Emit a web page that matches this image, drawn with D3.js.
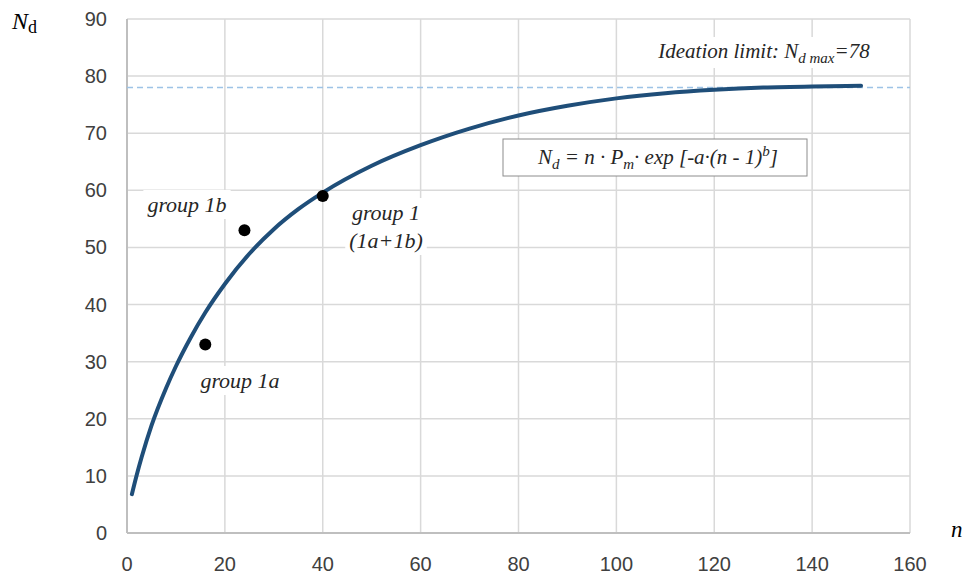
<!DOCTYPE html>
<html>
<head>
<meta charset="utf-8">
<script src="https://cdn.jsdelivr.net/npm/d3@7"></script>
<style>
  body { margin: 0; background: #fff; }
  svg { display: block; }
</style>
</head>
<body>
<div id="chart"></div>
<script>
// curve values
const curveN  = [1, 2, 3, 5, 8, 10, 13, 16, 20, 25, 30, 35, 40, 50, 60, 70, 80, 90, 100, 110, 120, 130, 140, 150];
const curveNd = [6.8, 10.2, 13.3, 18.8, 25.4, 29.2, 34.2, 38.6, 43.6, 48.9, 53.2, 56.7, 59.6, 64.3, 67.9, 70.8, 73.1, 74.8, 76.1, 77.0, 77.6, 78.0, 78.2, 78.3];

// measured groups
const groupNames = ["group 1a", "group 1b", "group 1"];
const groupN  = [16, 24, 40];
const groupNd = [33, 53, 59];

const ndMax = 78;
const xTicks = [0, 20, 40, 60, 80, 100, 120, 140, 160];
const yTicks = [0, 10, 20, 30, 40, 50, 60, 70, 80, 90];

let w = 965, h = 576;
let m = {left: 127, right: 55, top: 19, bottom: 43};

let svg = d3.select("#chart").append("svg")
  .attr("width", w).attr("height", h);

let x = d3.scaleLinear().domain([0, 160]).range([m.left, w - m.right]);
let y = d3.scaleLinear().domain([0, 90]).range([h - m.bottom, m.top]);

// grid
svg.append("g").selectAll("line").data(xTicks.slice(1))
  .join("line")
  .attr("x1", d => x(d)).attr("x2", d => x(d))
  .attr("y1", y(0)).attr("y2", y(90))
  .attr("stroke", "#d9d9d9").attr("stroke-width", 1.5);
svg.append("g").selectAll("line").data(yTicks.slice(1))
  .join("line")
  .attr("x1", x(0)).attr("x2", x(160))
  .attr("y1", d => y(d)).attr("y2", d => y(d))
  .attr("stroke", "#d9d9d9").attr("stroke-width", 1.5);

// axes
svg.append("line").attr("x1", x(0)).attr("x2", x(0)).attr("y1", y(0)).attr("y2", y(90))
  .attr("stroke", "#bfbfbf").attr("stroke-width", 2);
svg.append("line").attr("x1", x(0)).attr("x2", x(160)).attr("y1", y(0)).attr("y2", y(0))
  .attr("stroke", "#bfbfbf").attr("stroke-width", 2);

svg.append("g").selectAll("text").data(yTicks)
  .join("text")
  .attr("x", 107).attr("y", d => y(d) + 7)
  .attr("text-anchor", "end")
  .style("font", "20px 'Liberation Sans', Arial, sans-serif")
  .style("fill", "#404040")
  .text(d => d);
svg.append("g").selectAll("text").data(xTicks)
  .join("text")
  .attr("x", d => x(d)).attr("y", 571)
  .attr("text-anchor", "middle")
  .style("font", "20px 'Liberation Sans', Arial, sans-serif")
  .style("fill", "#404040")
  .text(d => d);

// axis titles
let serif = "'Liberation Serif', 'Times New Roman', serif";
let yt = svg.append("text").attr("x", 12).attr("y", 29)
  .style("font-family", serif).style("font-size", "24px").style("fill", "#000");
yt.append("tspan").style("font-style", "italic").text("N");
yt.append("tspan").attr("dy", 4).style("font-size", "18px").text("d");
svg.append("text").attr("x", 951).attr("y", 537)
  .style("font-family", serif).style("font-size", "23px").style("font-style", "italic")
  .text("n");

// label helper with white background
function label(lines, cx, baseline, lh) {
  let g = svg.append("g");
  let bg = g.append("rect").attr("fill", "#fff");
  let t = g.append("text")
    .attr("text-anchor", "middle")
    .style("font-family", serif).style("font-style", "italic")
    .style("font-size", "22px").style("fill", "#262626");
  lines.forEach((s, i) => {
    t.append("tspan").attr("x", cx).attr("y", baseline + i * lh).text(s);
  });
  let b = t.node().getBBox();
  bg.attr("x", b.x - 4).attr("y", b.y - 2).attr("width", b.width + 8).attr("height", b.height + 4);
  return t;
}

// limit line
svg.append("line")
  .attr("x1", x(0)).attr("x2", x(160))
  .attr("y1", y(ndMax)).attr("y2", y(ndMax))
  .attr("stroke", "#9dc3e6").attr("stroke-width", 1.5)
  .attr("stroke-dasharray", "6,4");

// curve
let curve = curveN.map((n, i) => [n, curveNd[i]]);
svg.append("path")
  .datum(curve)
  .attr("fill", "none")
  .attr("stroke", "#1f4e79")
  .attr("stroke-width", 4)
  .attr("stroke-linecap", "round")
  .attr("d", d3.line().x(d => x(d[0])).y(d => y(d[1])).curve(d3.curveMonotoneX));

// points
svg.append("g").selectAll("circle").data(groupN)
  .join("circle")
  .attr("cx", d => x(d)).attr("cy", (d, i) => y(groupNd[i]))
  .attr("r", 6).attr("fill", "#000");

// labels
label([groupNames[1]], 187, 212, 0);
label([groupNames[0]], 240, 388, 0);
label([groupNames[2], "(1a+1b)"], 386, 220, 28);

// ideation limit text
let lim = svg.append("g");
let limBg = lim.append("rect").attr("fill", "#fff");
let lt = lim.append("text").attr("x", 764).attr("y", 58).attr("text-anchor", "middle")
  .style("font-family", serif).style("font-style", "italic")
  .style("font-size", "21px").style("fill", "#262626");
lt.append("tspan").text("Ideation limit: N");
lt.append("tspan").attr("dy", 5).style("font-size", "15px").text("d max");
lt.append("tspan").attr("dy", -5).text("=78");
let lb = lt.node().getBBox();
limBg.attr("x", lb.x - 4).attr("y", lb.y - 2).attr("width", lb.width + 8).attr("height", lb.height + 4);

// formula box
let fb = svg.append("g");
fb.append("rect").attr("x", 503).attr("y", 139).attr("width", 304).attr("height", 37)
  .attr("fill", "#fff").attr("stroke", "#8c8c8c").attr("stroke-width", 1);
let ft = fb.append("text").attr("x", 658).attr("y", 164).attr("text-anchor", "middle")
  .style("font-family", serif).style("font-style", "italic")
  .style("font-size", "21px").style("fill", "#262626");
ft.append("tspan").text("N");
ft.append("tspan").attr("dy", 5).style("font-size", "15px").text("d");
ft.append("tspan").attr("dy", -5).text(" = n · P");
ft.append("tspan").attr("dy", 5).style("font-size", "15px").text("m");
ft.append("tspan").attr("dy", -5).text("· exp [-a·(n - 1)");
ft.append("tspan").attr("dy", -8).style("font-size", "15px").text("b");
ft.append("tspan").attr("dy", 8).text("]");
</script>
</body>
</html>
